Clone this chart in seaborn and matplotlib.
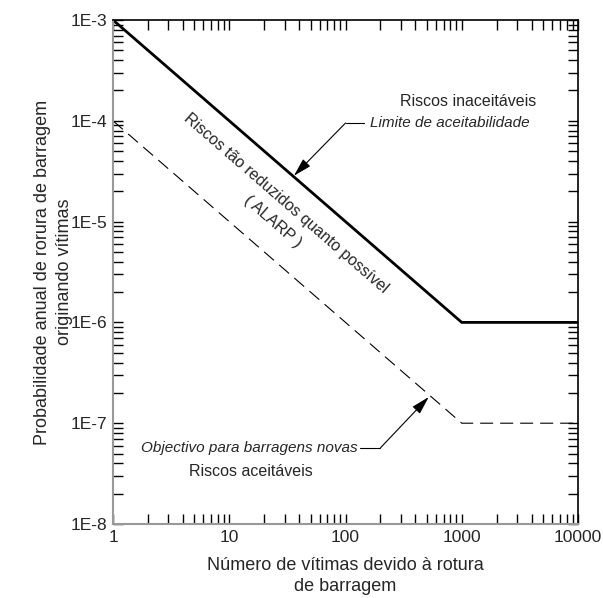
import numpy as np
import pandas as pd
import matplotlib
matplotlib.use("Agg")
import matplotlib.pyplot as plt
import matplotlib.ticker as mticker
import seaborn as sns

# ----------------------------------
# Data (F-N curve breakpoints)
# ----------------------------------
victims = [1, 1000, 10000]
limit_prob = [1e-3, 1e-6, 1e-6]        # Limite de aceitabilidade
objective_prob = [1e-4, 1e-7, 1e-7]    # Objectivo para barragens novas

x_ticks = [1, 10, 100, 1000, 10000]
x_labels = ["1", "10", "100", "1000", "10000"]
y_ticks = [1e-8, 1e-7, 1e-6, 1e-5, 1e-4, 1e-3]
y_labels = ["1E-8", "1E-7", "1E-6", "1E-5", "1E-4", "1E-3"]

df = pd.DataFrame({
    "N": victims * 2,
    "P": limit_prob + objective_prob,
    "curve": ["limite"] * 3 + ["objectivo"] * 3,
})

# ----------------------------------
# Style
# ----------------------------------
sns.set_theme(style="white")
plt.rcParams["font.family"] = ["Liberation Sans", "DejaVu Sans"]
plt.rcParams["font.size"] = 12

fig = plt.figure(figsize=(6.03, 5.98), dpi=100)
ax = fig.add_axes([113 / 603, 74 / 598, 465 / 603, 504 / 598])

sns.lineplot(data=df[df.curve == "limite"], x="N", y="P", ax=ax,
             color="black", linewidth=2.0, estimator=None, sort=False)
sns.lineplot(data=df[df.curve == "objectivo"], x="N", y="P", ax=ax,
             color="black", linewidth=0.8, estimator=None, sort=False,
             dashes=False, linestyle=(0, (11.7, 6.3)))

ax.set_xscale("log")
ax.set_yscale("log")
ax.set_xlim(1, 10000)
ax.set_ylim(1e-8, 1e-3)

ax.xaxis.set_major_locator(mticker.FixedLocator(x_ticks))
ax.xaxis.set_major_formatter(mticker.FixedFormatter(x_labels))
ax.yaxis.set_major_locator(mticker.FixedLocator(y_ticks))
ax.yaxis.set_major_formatter(mticker.FixedFormatter(y_labels))
ax.xaxis.set_minor_locator(mticker.LogLocator(base=10, subs=np.arange(2, 10)))
ax.yaxis.set_minor_locator(mticker.LogLocator(base=10, subs=np.arange(2, 10)))
ax.xaxis.set_minor_formatter(mticker.NullFormatter())
ax.yaxis.set_minor_formatter(mticker.NullFormatter())

ax.tick_params(which="both", direction="in", top=True, right=True,
               bottom=True, left=True, length=7, width=1, color="black",
               labelsize=12.5, pad=4)

for side in ["left", "bottom"]:
    ax.spines[side].set_color("#999999")
    ax.spines[side].set_linewidth(1.5)
for side in ["top", "right"]:
    ax.spines[side].set_color("black")
    ax.spines[side].set_linewidth(1.2)

ax.set_xlabel("Número de vítimas devido à rotura\nde barragem", fontsize=13,
              labelpad=9, linespacing=1.3)
ax.set_ylabel("Probabilidade anual de rorura de barragem\noriginando vítimas",
              fontsize=13, labelpad=-2, linespacing=1.4)

# ----------------------------------
# Annotations
# ----------------------------------
arrow = dict(arrowstyle="-|>,head_length=0.8,head_width=0.22", color="black",
             lw=0.8, mutation_scale=14, shrinkA=0, shrinkB=0)

ax.text(1125, 1.55e-4, "Riscos inaceitáveis", ha="center", va="center",
        fontsize=11.5)
ax.text(164, 9.5e-5, "Limite de aceitabilidade", ha="left", va="center",
        fontsize=11, style="italic")
ax.plot([100, 145], [9.5e-5, 9.5e-5], color="black", linewidth=0.8)
ax.annotate("", xy=(36, 2.85e-5), xytext=(100, 9.5e-5), arrowprops=arrow)

ax.text(31, 1.53e-5, "Riscos tão reduzidos quanto possível", ha="center",
        va="center", fontsize=11.5, rotation=-41, rotation_mode="anchor")
ax.text(23.5, 9.9e-6, "( ALARP )", ha="center", va="center", fontsize=11.5,
        rotation=-41, rotation_mode="anchor")

ax.text(127, 5.7e-8, "Objectivo para barragens novas", ha="right",
        va="center", fontsize=11, style="italic")
ax.plot([134, 200], [5.7e-8, 5.7e-8], color="black", linewidth=0.8)
ax.annotate("", xy=(520, 1.82e-7), xytext=(200, 5.7e-8), arrowprops=arrow)
ax.text(15.2, 3.28e-8, "Riscos aceitáveis", ha="center", va="center",
        fontsize=11.5)

if ax.get_legend() is not None:
    ax.get_legend().remove()

fig.savefig("out.png", dpi=100)
